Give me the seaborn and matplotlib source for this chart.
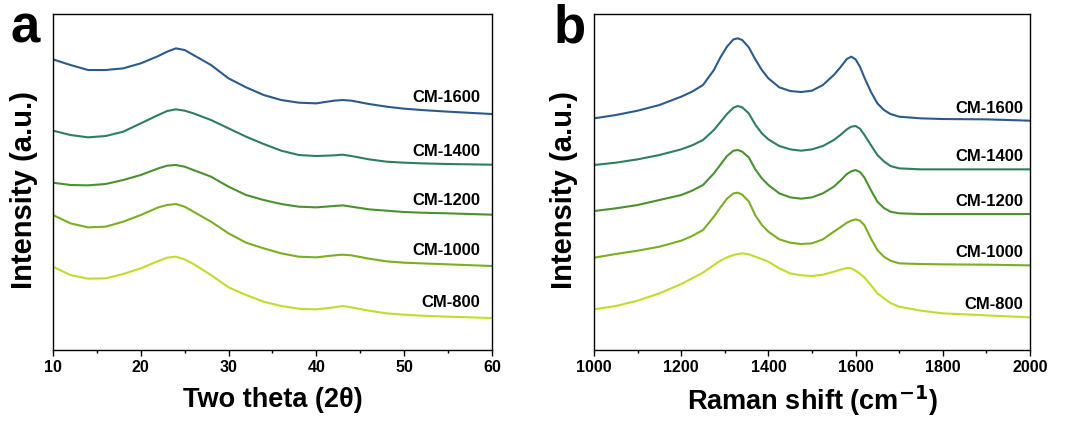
import numpy as np
import pandas as pd
import seaborn as sns
import matplotlib.pyplot as plt

# sample names and line colours (bottom -> top)
samples = ["CM-800", "CM-1000", "CM-1200", "CM-1400", "CM-1600"]
colors = ["#c3dc2c", "#7cae22", "#4a912f", "#2e7f5d", "#2b5b8c"]

# panel a: XRD, stacked intensities (a.u.)
two_theta = [10, 12, 14, 16, 18, 20, 22, 23, 24, 25, 26, 28, 30, 32, 34, 36,
             38, 40, 42, 43, 44, 46, 48, 50, 52, 55, 60]
xrd_800 = [25.0, 22.5, 21.4, 21.5, 22.8, 24.5, 26.7, 27.7, 28.0, 27.2, 25.8, 22.5,
           18.8, 16.5, 14.5, 13.2, 12.4, 12.2, 12.8, 13.2, 12.8, 11.8, 11.0, 10.6,
           10.3, 10.0, 9.6]
xrd_1000 = [40.5, 38.0, 36.8, 37.0, 38.5, 40.5, 42.8, 43.5, 43.8, 43.0, 41.5, 38.5,
            35.0, 32.2, 30.5, 29.0, 28.0, 27.8, 28.4, 28.6, 28.4, 27.4, 26.6, 26.2,
            26.0, 25.7, 25.2]
xrd_1200 = [50.2, 49.5, 49.4, 49.8, 51.0, 52.5, 54.5, 55.3, 55.5, 55.0, 54.0, 52.0,
            49.0, 46.5, 45.0, 43.8, 43.0, 42.8, 43.2, 43.4, 43.0, 42.2, 41.8, 41.4,
            41.2, 41.0, 40.6]
xrd_1400 = [65.8, 64.5, 63.8, 64.2, 65.5, 68.0, 70.5, 71.7, 72.2, 71.8, 71.0, 69.0,
            66.5, 64.0, 61.8, 59.8, 58.5, 58.2, 58.4, 58.6, 58.2, 57.2, 56.5, 56.2,
            56.0, 55.8, 55.6]
xrd_1600 = [87.2, 85.5, 84.0, 84.0, 84.5, 86.0, 88.2, 89.5, 90.5, 90.0, 88.5, 85.5,
            81.5, 78.8, 76.5, 75.0, 74.2, 74.0, 74.8, 75.0, 74.8, 73.8, 73.0, 72.4,
            72.0, 71.5, 70.8]

# panel b: Raman, stacked intensities (a.u.)
raman_shift = [1000, 1050, 1100, 1150, 1200, 1225, 1250, 1275, 1290, 1305,
               1320, 1330, 1340, 1355, 1370, 1385, 1400, 1425, 1450, 1475,
               1500, 1525, 1550, 1565, 1580, 1590, 1600, 1610, 1620, 1635,
               1650, 1665, 1680, 1700, 1750, 1800, 1900, 2000]
ram_800 = [12.2, 13.2, 14.8, 17.0, 19.8, 21.5, 23.2, 25.5, 26.8, 27.8,
           28.5, 28.8, 29.0, 28.7, 28.0, 27.3, 26.5, 24.5, 23.0, 22.4,
           22.2, 22.6, 23.5, 24.1, 24.6, 24.5, 23.8, 22.9, 21.8, 19.5,
           17.0, 15.5, 14.1, 13.0, 11.8, 11.0, 10.4, 9.8]
ram_1000 = [27.7, 28.8, 29.8, 31.0, 32.8, 34.2, 36.0, 40.0, 42.8, 45.4,
            47.0, 47.2, 46.6, 44.6, 40.4, 37.5, 35.5, 33.2, 32.2, 31.8,
            32.0, 33.2, 35.5, 36.8, 38.2, 38.8, 39.2, 38.8, 37.5, 33.5,
            30.0, 28.0, 26.8, 26.0, 25.8, 25.7, 25.6, 25.4]
ram_1200 = [41.7, 42.5, 43.5, 45.0, 46.5, 47.8, 49.5, 53.0, 55.6, 58.2,
            59.8, 60.0, 59.5, 57.8, 54.2, 51.5, 49.5, 47.0, 45.8, 45.4,
            45.8, 47.0, 49.0, 50.8, 52.8, 53.6, 54.0, 53.4, 51.8, 48.0,
            44.5, 42.6, 41.5, 41.0, 40.8, 40.8, 40.8, 40.8]
ram_1400 = [55.5, 56.2, 57.2, 58.5, 60.2, 61.4, 63.0, 66.0, 68.4, 70.8,
            72.7, 73.2, 72.8, 71.0, 67.6, 65.0, 63.2, 61.2, 60.2, 59.8,
            60.2, 61.2, 63.0, 64.5, 66.2, 67.0, 67.2, 66.4, 64.6, 61.5,
            58.5, 56.6, 55.2, 54.5, 54.2, 54.2, 54.2, 54.2]
ram_1600 = [69.5, 70.5, 71.8, 73.5, 76.0, 77.5, 79.5, 84.0, 87.8, 91.0,
            93.2, 93.5, 93.0, 90.8, 87.2, 84.0, 81.5, 78.8, 77.7, 77.4,
            77.8, 79.5, 82.5, 84.8, 87.3, 88.0, 87.2, 85.0, 81.8, 77.5,
            74.0, 72.0, 70.8, 70.0, 69.5, 69.3, 69.2, 68.8]

# label heights for the sample names
xrd_label_y = [14.2, 30.0, 45.0, 59.5, 75.9]
raman_label_y = [13.8, 29.2, 44.5, 58.0, 72.5]


def long_df(x, series):
    rows = []
    for name, ys in zip(samples, series):
        rows.append(pd.DataFrame({"x": x, "y": ys, "sample": name}))
    return pd.concat(rows, ignore_index=True)


xrd = long_df(two_theta, [xrd_800, xrd_1000, xrd_1200, xrd_1400, xrd_1600])
raman = long_df(raman_shift, [ram_800, ram_1000, ram_1200, ram_1400, ram_1600])

sns.set_style("ticks")
plt.rcParams["font.family"] = ["Liberation Sans", "DejaVu Sans"]
plt.rcParams["font.weight"] = "bold"
plt.rcParams["text.color"] = "black"
plt.rcParams["axes.labelcolor"] = "black"
plt.rcParams["xtick.color"] = "black"

fig = plt.figure(figsize=(10.72, 4.21), dpi=100)
ax1 = fig.add_axes([0.0494, 0.1686, 0.4095, 0.7981])
ax2 = fig.add_axes([0.5541, 0.1686, 0.4067, 0.7981])

palette = dict(zip(samples, colors))

for ax, df, xlim, lab_x, lab_y, ylab_x in [
        (ax1, xrd, (10, 60), 58.7, xrd_label_y, -0.033),
        (ax2, raman, (1000, 2000), 1984, raman_label_y, -0.036)]:
    sns.lineplot(data=df, x="x", y="y", hue="sample", palette=palette,
                 estimator=None, sort=False, legend=False, linewidth=1.5, ax=ax)
    ax.set_xlim(*xlim)
    ax.set_ylim(0, 100.8)
    ax.set_yticks([])
    for name, yy in zip(samples, lab_y):
        ax.text(lab_x, yy, name, ha="right", va="center", fontsize=12,
                fontweight="bold", color="black")
    for s in ax.spines.values():
        s.set_linewidth(1.0)
        s.set_color("black")
    ax.tick_params(axis="x", direction="out", length=4, width=1.0,
                   labelsize=11.5, pad=3)
    ax.tick_params(axis="x", which="minor", direction="out", length=2.5, width=1.0)
    for t in ax.get_xticklabels():
        t.set_fontweight("bold")
    ax.set_ylabel("Intensity (a.u.)", fontsize=21, fontweight="bold")
    ax.yaxis.set_label_coords(ylab_x, 0.475)

ax1.set_xticks([10, 20, 30, 40, 50, 60])
ax1.set_xticks([15, 25, 35, 45, 55], minor=True)
ax2.set_xticks([1000, 1200, 1400, 1600, 1800, 2000])
ax2.set_xticks([1100, 1300, 1500, 1700, 1900], minor=True)

ax1.set_xlabel("Two theta (2\u03b8)", fontsize=19.5, fontweight="bold", labelpad=9)
ax2.set_xlabel("Raman shift (cm$^{\\mathbf{-1}}$)", fontsize=19.5, fontweight="bold",
               labelpad=6)

fig.text(0.010, 0.90, "a", fontsize=38, fontweight="bold")
fig.text(0.516, 0.90, "b", fontsize=38, fontweight="bold")

fig.savefig("out.png", dpi=100)
